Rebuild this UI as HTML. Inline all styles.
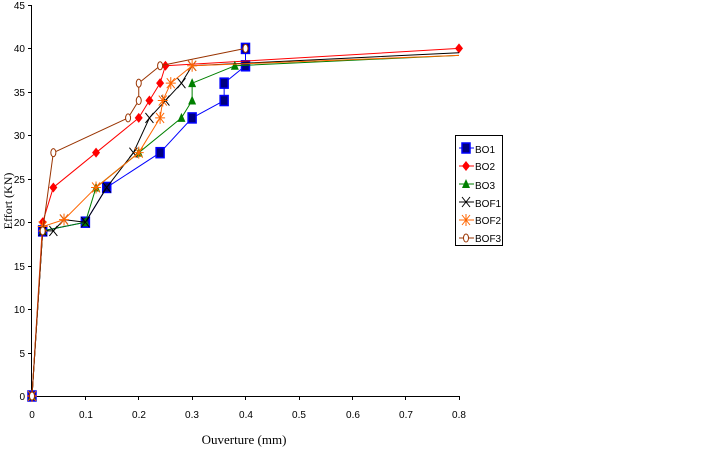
<!DOCTYPE html>
<html><head><meta charset="utf-8"><style>
body{margin:0;background:#fff;width:727px;height:452px;overflow:hidden}
svg text{font-family:"Liberation Sans",sans-serif;font-size:10px;fill:#000}
</style></head><body>
<svg id="s" width="727" height="452" xmlns="http://www.w3.org/2000/svg">
<line x1="31.5" y1="5" x2="31.5" y2="397" stroke="#000"/>
<line x1="31" y1="396.5" x2="460" y2="396.5" stroke="#000"/>
<g stroke="#000">
<line x1="28" x2="31" y1="5.5" y2="5.5"/><line x1="28" x2="31" y1="48.5" y2="48.5"/><line x1="28" x2="31" y1="92.5" y2="92.5"/><line x1="28" x2="31" y1="135.5" y2="135.5"/><line x1="28" x2="31" y1="179.5" y2="179.5"/><line x1="28" x2="31" y1="222.5" y2="222.5"/><line x1="28" x2="31" y1="266.5" y2="266.5"/><line x1="28" x2="31" y1="309.5" y2="309.5"/><line x1="28" x2="31" y1="353.5" y2="353.5"/>
<line y1="397" y2="400" x1="85.5" x2="85.5"/><line y1="397" y2="400" x1="138.5" x2="138.5"/><line y1="397" y2="400" x1="192.5" x2="192.5"/><line y1="397" y2="400" x1="245.5" x2="245.5"/><line y1="397" y2="400" x1="299.5" x2="299.5"/><line y1="397" y2="400" x1="352.5" x2="352.5"/><line y1="397" y2="400" x1="405.5" x2="405.5"/><line y1="397" y2="400" x1="459.5" x2="459.5"/>
</g>
<g text-anchor="end">
<text x="25" y="9">45</text><text x="25" y="52">40</text><text x="25" y="96">35</text><text x="25" y="139">30</text><text x="25" y="183">25</text><text x="25" y="226">20</text><text x="25" y="270">15</text><text x="25" y="313">10</text><text x="25" y="357">5</text><text x="25" y="400">0</text>
</g>
<g text-anchor="middle">
<text x="32" y="418">0</text><text x="86" y="418">0.1</text><text x="139" y="418">0.2</text><text x="192" y="418">0.3</text><text x="246" y="418">0.4</text><text x="299" y="418">0.5</text><text x="353" y="418">0.6</text><text x="406" y="418">0.7</text><text x="459" y="418">0.8</text>
</g>
<text x="244" y="444" text-anchor="middle" style="font-family:'Liberation Serif',serif;font-size:13px">Ouverture (mm)</text>
<text transform="translate(12,201) rotate(-90)" text-anchor="middle" style="font-family:'Liberation Serif',serif;font-size:12px">Effort (KN)</text>
<rect x="455.5" y="135.5" width="47" height="110" fill="#fff" stroke="#000"/>
<g style="font-family:'Liberation Serif',serif;font-size:12px">
<text x="475" y="153">BO1</text><text x="475" y="170">BO2</text><text x="475" y="189">BO3</text><text x="475" y="207">BOF1</text><text x="475" y="224">BOF2</text><text x="475" y="242">BOF3</text>
</g>
<g id="g"></g>
</svg>
<script>
var X=v=>32+v*533.75,Y=v=>396-v*8.69;
var S=[
["#0000ff","sq",[[0,0],[0.02,19],[0.1,20],[0.14,24],[0.24,28],[0.3,32],[0.36,34],[0.36,36],[0.4,38],[0.4,40]],148,0],
["#ff0000","di",[[0,0],[0.02,20],[0.04,24],[0.12,28],[0.2,32],[0.22,34],[0.24,36],[0.25,38],[0.8,40]],166,0],
["#008000","tr",[[0,0],[0.02,19],[0.1,20],[0.12,24],[0.2,28],[0.28,32],[0.3,34],[0.3,36],[0.38,38],[0.8,39.2]],184,1],
["#000000","x",[[0,0],[0.02,19],[0.04,19],[0.06,20.3],[0.1,20],[0.14,24],[0.19,28],[0.22,32],[0.25,34],[0.28,36],[0.3,38],[0.8,39.5]],202,1],
["#ff6600","as",[[0,0],[0.02,19.5],[0.06,20.3],[0.12,24],[0.2,28],[0.24,32],[0.245,34],[0.26,36],[0.3,38],[0.8,39.2]],220,1],
["#993300","ci",[[0,0],[0.02,19],[0.04,28],[0.18,32],[0.2,34],[0.2,36],[0.24,38],[0.4,40]],238,0]];
function mk(t,c,x,y){
 if(t=="sq")return `<rect x="${x-4}" y="${y-5}" width="8" height="10" fill="#000080" stroke="${c}" stroke-width="1.5"/>`;
 if(t=="di")return `<path d="M${x} ${y-5}L${x+4} ${y}L${x} ${y+5}L${x-4} ${y}Z" fill="${c}"/>`;
 if(t=="tr")return `<path d="M${x} ${y-5}L${x+4} ${y+4}L${x-4} ${y+4}Z" fill="${c}"/>`;
 if(t=="x")return `<path d="M${x-4} ${y-5}L${x+4} ${y+5}M${x+4} ${y-5}L${x-4} ${y+5}" stroke="${c}"/>`;
 if(t=="as")return `<path d="M${x-4} ${y-5}L${x+4} ${y+5}M${x+4} ${y-5}L${x-4} ${y+5}M${x} ${y-6}L${x} ${y+6}M${x-5} ${y}L${x+5} ${y}" stroke="${c}"/>`;
 return `<ellipse cx="${x}" cy="${y}" rx="2.5" ry="4" fill="#fff" stroke="${c}"/>`;
}
var h="";
S.forEach(s=>{var p=s[2].map(q=>[X(q[0]),Y(q[1])]);
 h+=`<polyline points="${p.join(' ')}" fill="none" stroke="${s[0]}" stroke-linejoin="round"/>`;
 var n=s[4]?p.length-1:p.length;
 for(var i=0;i<n;i++)h+=mk(s[1],s[0],p[i][0],p[i][1]);
 h+=`<line x1="459" x2="474" y1="${s[3]}" y2="${s[3]}" stroke="${s[0]}"/>`+mk(s[1],s[0],466,s[3]);
});
document.getElementById("g").innerHTML=h;
</script>
</body></html>
